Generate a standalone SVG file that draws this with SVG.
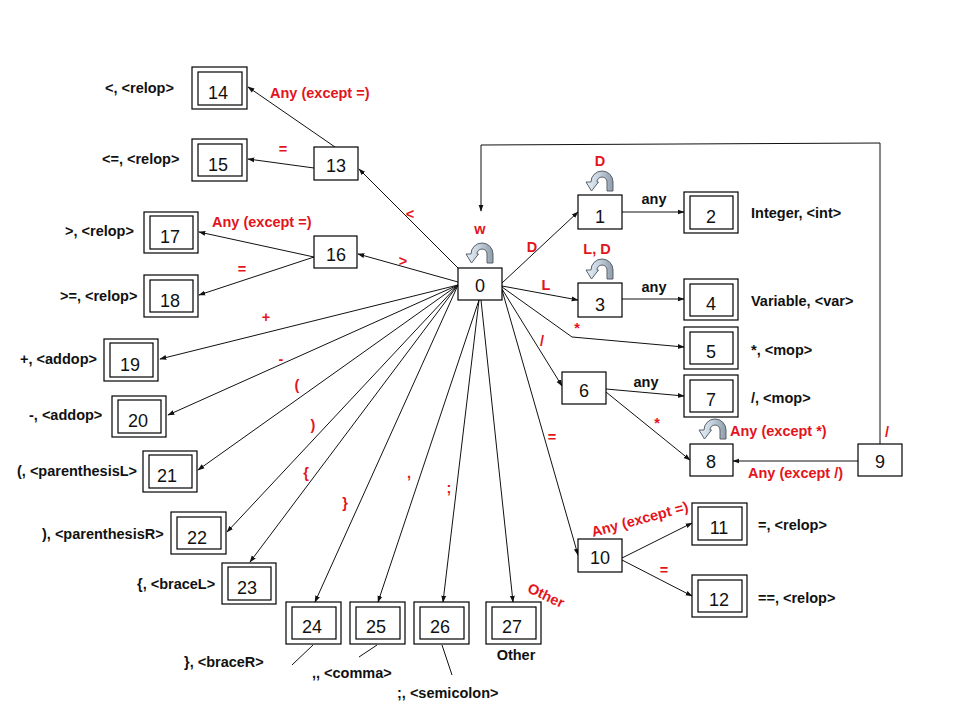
<svg xmlns="http://www.w3.org/2000/svg" width="960" height="720" viewBox="0 0 960 720">
  <defs>
    <style>
      .box { fill: #fff; stroke: #000; stroke-width: 1.2; }
      .num { font-family: "Liberation Sans", Arial, sans-serif; font-size: 18px; fill: #111; text-anchor: middle; }
      .lbl { font-family: "Liberation Sans", Arial, sans-serif; font-size: 14.5px; font-weight: bold; fill: #111; }
      .red { font-family: "Liberation Sans", Arial, sans-serif; font-size: 14.5px; font-weight: bold; fill: #e3141c; }
      .mid { text-anchor: middle; }
      .edge { fill: none; stroke: #111; stroke-width: 1; marker-end: url(#arrow); }
      .lead { fill: none; stroke: #111; stroke-width: 1; }
      .loop { fill: url(#loopFill); stroke: #5a6168; stroke-width: 1; }
    </style>
    <marker id="arrow" viewBox="0 0 10 10" refX="9" refY="5" markerWidth="7" markerHeight="7" orient="auto" markerUnits="userSpaceOnUse">
      <path d="M0,1.5 L10,5 L0,8.5 Z" fill="#111"/>
    </marker>
    <linearGradient id="loopFill" x1="0" y1="0" x2="1" y2="0">
      <stop offset="0" stop-color="#e6eef6"/>
      <stop offset="0.5" stop-color="#c3d0dc"/>
      <stop offset="1" stop-color="#8e9ca9"/>
    </linearGradient>
    <!-- curved self-loop arrow, 28 x 21 -->
    <path id="selfLoop" class="loop" d="M28,21 L28,12 A11,11 0 0 0 6,12 L1,12 L6.5,21 L13.5,12 L12,12 A5,5 0 0 1 22,12 L22,21 Z"/>
  </defs>

  <rect width="960" height="720" fill="#fff"/>

  <!-- connectors -->
  <g id="connectors">
    <line class="edge" x1="458" y1="268" x2="359" y2="169"/>
    <line class="edge" x1="335" y1="147" x2="248" y2="87"/>
    <line class="edge" x1="314" y1="168" x2="248" y2="159"/>
    <line class="edge" x1="458" y1="282" x2="358" y2="254"/>
    <line class="edge" x1="314" y1="257" x2="199" y2="232"/>
    <line class="edge" x1="314" y1="257" x2="199" y2="295"/>
    <line class="edge" x1="458" y1="285" x2="160" y2="359"/>
    <line class="edge" x1="458" y1="285" x2="168" y2="415"/>
    <line class="edge" x1="458" y1="285" x2="198" y2="470"/>
    <line class="edge" x1="458" y1="285" x2="227" y2="532"/>
    <line class="edge" x1="458" y1="285" x2="250" y2="562"/>
    <line class="edge" x1="458" y1="285" x2="315" y2="602"/>
    <line class="edge" x1="479" y1="300" x2="378" y2="602"/>
    <line class="edge" x1="479" y1="300" x2="443" y2="602"/>
    <line class="edge" x1="481" y1="300" x2="513" y2="602"/>
    <line class="edge" x1="502" y1="290" x2="578" y2="555"/>
    <line class="edge" x1="502" y1="283" x2="578" y2="212"/>
    <line class="edge" x1="502" y1="286" x2="578" y2="300"/>
    <polyline class="edge" points="502,287 572,337 684,347"/>
    <line class="edge" x1="502" y1="289" x2="562" y2="386"/>
    <line class="edge" x1="622" y1="212" x2="684" y2="212"/>
    <line class="edge" x1="622" y1="299" x2="684" y2="299"/>
    <line class="edge" x1="606" y1="389" x2="684" y2="396"/>
    <line class="edge" x1="606" y1="392" x2="690" y2="460"/>
    <line class="edge" x1="858" y1="461" x2="733" y2="461"/>
    <polyline class="edge" points="880,444 880,143 481,145 481,211"/>
    <line class="edge" x1="622" y1="558" x2="692" y2="523"/>
    <line class="edge" x1="622" y1="560" x2="692" y2="596"/>
    <line class="lead" x1="313" y1="645" x2="292" y2="665"/>
    <line class="lead" x1="377" y1="645" x2="359" y2="657"/>
    <line class="lead" x1="442" y1="645" x2="452" y2="675"/>
  </g>

  <!-- self loops -->
  <use href="#selfLoop" x="465" y="242"/>
  <use href="#selfLoop" x="585" y="170"/>
  <use href="#selfLoop" x="585" y="258"/>
  <use href="#selfLoop" x="698" y="418"/>

  <!-- states -->
  <g id="n0"><rect class="box" x="458" y="268" width="44" height="32"/><text class="num" x="480" y="292">0</text></g>
  <g id="n1"><rect class="box" x="578" y="195" width="44" height="34"/><text class="num" x="600" y="223">1</text></g>
  <g id="n2"><rect class="box" x="684" y="192" width="54" height="41"/><rect class="box" x="690" y="196" width="43" height="33"/><text class="num" x="711" y="223">2</text></g>
  <g id="n3"><rect class="box" x="578" y="283" width="44" height="34"/><text class="num" x="600" y="311">3</text></g>
  <g id="n4"><rect class="box" x="684" y="279" width="54" height="41"/><rect class="box" x="690" y="284" width="43" height="32"/><text class="num" x="711" y="310">4</text></g>
  <g id="n5"><rect class="box" x="684" y="327" width="54" height="42"/><rect class="box" x="690" y="332" width="43" height="32"/><text class="num" x="711" y="358">5</text></g>
  <g id="n6"><rect class="box" x="562" y="372" width="44" height="32"/><text class="num" x="584" y="397">6</text></g>
  <g id="n7"><rect class="box" x="684" y="375" width="54" height="42"/><rect class="box" x="690" y="380" width="43" height="32"/><text class="num" x="711" y="406">7</text></g>
  <g id="n8"><rect class="box" x="690" y="444" width="43" height="32"/><text class="num" x="711" y="468">8</text></g>
  <g id="n9"><rect class="box" x="858" y="444" width="44" height="32"/><text class="num" x="880" y="468">9</text></g>
  <g id="n10"><rect class="box" x="578" y="539" width="44" height="33"/><text class="num" x="600" y="564">10</text></g>
  <g id="n11"><rect class="box" x="692" y="503" width="55" height="42"/><rect class="box" x="698" y="507" width="44" height="33"/><text class="num" x="719" y="534">11</text></g>
  <g id="n12"><rect class="box" x="692" y="575" width="55" height="42"/><rect class="box" x="698" y="580" width="44" height="32"/><text class="num" x="719" y="606">12</text></g>
  <g id="n13"><rect class="box" x="314" y="147" width="44" height="33"/><text class="num" x="336" y="172">13</text></g>
  <g id="n14"><rect class="box" x="192" y="67" width="55" height="42"/><rect class="box" x="198" y="72" width="44" height="33"/><text class="num" x="218" y="99">14</text></g>
  <g id="n15"><rect class="box" x="192" y="139" width="55" height="42"/><rect class="box" x="198" y="144" width="44" height="32"/><text class="num" x="218" y="171">15</text></g>
  <g id="n16"><rect class="box" x="314" y="236" width="43" height="32"/><text class="num" x="336" y="261">16</text></g>
  <g id="n17"><rect class="box" x="144" y="212" width="54" height="41"/><rect class="box" x="150" y="216" width="43" height="33"/><text class="num" x="170" y="243">17</text></g>
  <g id="n18"><rect class="box" x="144" y="275" width="54" height="42"/><rect class="box" x="150" y="280" width="43" height="32"/><text class="num" x="170" y="307">18</text></g>
  <g id="n19"><rect class="box" x="104" y="339" width="54" height="42"/><rect class="box" x="110" y="343" width="43" height="34"/><text class="num" x="130" y="371">19</text></g>
  <g id="n20"><rect class="box" x="112" y="396" width="54" height="41"/><rect class="box" x="118" y="400" width="43" height="33"/><text class="num" x="138" y="427">20</text></g>
  <g id="n21"><rect class="box" x="143" y="451" width="54" height="41"/><rect class="box" x="149" y="455" width="43" height="33"/><text class="num" x="167" y="482">21</text></g>
  <g id="n22"><rect class="box" x="171" y="512" width="55" height="42"/><rect class="box" x="177" y="517" width="44" height="32"/><text class="num" x="197" y="544">22</text></g>
  <g id="n23"><rect class="box" x="222" y="563" width="54" height="41"/><rect class="box" x="228" y="567" width="43" height="33"/><text class="num" x="247" y="594">23</text></g>
  <g id="n24"><rect class="box" x="286" y="602" width="55" height="42"/><rect class="box" x="292" y="607" width="44" height="32"/><text class="num" x="312" y="633">24</text></g>
  <g id="n25"><rect class="box" x="350" y="602" width="55" height="42"/><rect class="box" x="356" y="607" width="44" height="32"/><text class="num" x="376" y="633">25</text></g>
  <g id="n26"><rect class="box" x="414" y="602" width="55" height="42"/><rect class="box" x="420" y="607" width="44" height="32"/><text class="num" x="440" y="633">26</text></g>
  <g id="n27"><rect class="box" x="486" y="602" width="55" height="42"/><rect class="box" x="492" y="607" width="44" height="32"/><text class="num" x="512" y="633">27</text></g>

  <!-- transition labels -->
  <g id="edge-labels">
    <text class="red mid" x="480" y="234">w</text>
    <text class="red mid" x="410" y="219">&lt;</text>
    <text class="red mid" x="403" y="266">&gt;</text>
    <text class="red" x="270" y="98">Any (except =)</text>
    <text class="red mid" x="283" y="154">=</text>
    <text class="red" x="212" y="227">Any (except =)</text>
    <text class="red mid" x="242" y="274">=</text>
    <text class="red mid" x="266" y="322">+</text>
    <text class="red mid" x="281" y="364">-</text>
    <text class="red mid" x="297" y="390">(</text>
    <text class="red mid" x="313" y="430">)</text>
    <text class="red mid" x="306" y="478">{</text>
    <text class="red mid" x="345" y="508">}</text>
    <text class="red mid" x="409" y="478">,</text>
    <text class="red mid" x="449" y="493">;</text>
    <text class="red mid" x="532" y="252">D</text>
    <text class="red mid" x="546" y="290">L</text>
    <text class="red mid" x="577" y="333">*</text>
    <text class="red mid" x="542" y="346">/</text>
    <text class="red mid" x="552" y="442">=</text>
    <text class="red mid" x="600" y="166">D</text>
    <text class="red mid" x="597" y="254">L, D</text>
    <text class="red mid" x="657" y="428">*</text>
    <text class="red" x="730" y="436">Any (except *)</text>
    <text class="red" x="748" y="478">Any (except /)</text>
    <text class="red mid" x="887" y="437">/</text>
    <text class="red mid" transform="translate(641,524) rotate(-15)">Any (except =)</text>
    <text class="red mid" x="664" y="575">=</text>
    <text class="red mid" transform="translate(544,600) rotate(25)">Other</text>
    <text class="lbl mid" x="654" y="204">any</text>
    <text class="lbl mid" x="654" y="292">any</text>
    <text class="lbl mid" x="646" y="387">any</text>
  </g>

  <!-- token names for accepting states -->
  <g id="token-labels">
    <text class="lbl" x="105" y="93">&lt;, &lt;relop&gt;</text>
    <text class="lbl" x="102" y="164">&lt;=, &lt;relop&gt;</text>
    <text class="lbl" x="65" y="236">&gt;, &lt;relop&gt;</text>
    <text class="lbl" x="60" y="301">&gt;=, &lt;relop&gt;</text>
    <text class="lbl" x="20" y="364">+, &lt;addop&gt;</text>
    <text class="lbl" x="29" y="420">-, &lt;addop&gt;</text>
    <text class="lbl" x="17" y="476">(, &lt;parenthesisL&gt;</text>
    <text class="lbl" x="42" y="539">), &lt;parenthesisR&gt;</text>
    <text class="lbl" x="137" y="589">{, &lt;braceL&gt;</text>
    <text class="lbl" x="184" y="667">}, &lt;braceR&gt;</text>
    <text class="lbl" x="312" y="678">,, &lt;comma&gt;</text>
    <text class="lbl" x="397" y="698">;, &lt;semicolon&gt;</text>
    <text class="lbl mid" x="516" y="660">Other</text>
    <text class="lbl" x="751" y="218">Integer, &lt;int&gt;</text>
    <text class="lbl" x="751" y="306">Variable, &lt;var&gt;</text>
    <text class="lbl" x="751" y="355">*, &lt;mop&gt;</text>
    <text class="lbl" x="751" y="403">/, &lt;mop&gt;</text>
    <text class="lbl" x="758" y="530">=, &lt;relop&gt;</text>
    <text class="lbl" x="758" y="603">==, &lt;relop&gt;</text>
  </g>
</svg>
